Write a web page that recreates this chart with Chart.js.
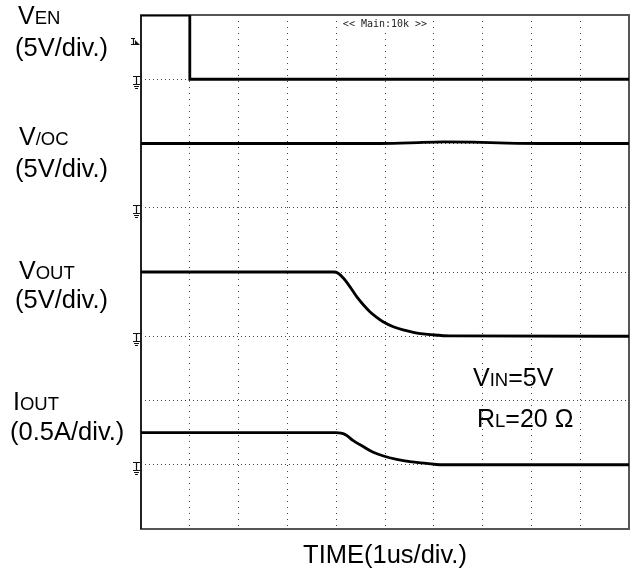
<!DOCTYPE html>
<html>
<head>
<meta charset="utf-8">
<script src="https://cdn.jsdelivr.net/npm/chart.js@4.4.0/dist/chart.umd.min.js"></script>
<style>
  body { margin: 0; background: #fff; }
  #scope { display: block; }
</style>
</head>
<body>
<canvas id="scope" width="633" height="571"></canvas>
<script>
// time in us, 1us/div
const timeEN = [0, 1.0, 1.0, 10];
const valuesEN = [5, 5, 0, 0];

const timeOC = [0, 4.8, 5.5, 6.2, 6.8, 7.5, 8.2, 10];
const valuesOC = [5, 5, 5.05, 5.12, 5.1, 5.03, 5.0, 5.0];

const timeOUT = [0, 3.95, 4.04, 4.15, 4.28, 4.42, 4.56, 4.69, 4.83, 4.96, 5.17, 5.37, 5.58, 5.78, 5.99, 6.33, 10];
const valuesOUT = [5, 5, 4.9, 4.51, 3.86, 3.08, 2.43, 1.91, 1.47, 1.13, 0.74, 0.49, 0.31, 0.18, 0.10, 0.03, 0];

const timeIOUT = [0, 4.0, 4.1, 4.2, 4.35, 4.56, 4.76, 4.97, 5.24, 5.51, 5.85, 6.13, 10];
const valuesIOUT = [0.25, 0.25, 0.246, 0.232, 0.187, 0.140, 0.097, 0.068, 0.042, 0.024, 0.011, 0, 0];

// channel ground level (in divisions) and volts/amps per division
const channelNames = ["VEN", "V/OC", "VOUT", "IOUT"];
const groundDivs = [7, 5, 3, 1];
const perDiv = [5, 5, 5, 0.5];

const sideLabels = [
    {big: "V", small: "EN", unit: "(5V/div.)"},
    {big: "V", small: "/OC", unit: "(5V/div.)"},
    {big: "V", small: "OUT", unit: "(5V/div.)"},
    {big: "I", small: "OUT", unit: "(0.5A/div.)"}
];

const FONT = "'Liberation Sans', Arial, sans-serif";

function toPoints(times, values, ch){
    return times.map(function (t, i){
        return {x: t, y: groundDivs[ch] + values[i] / perDiv[ch]};
    });
}

const traces = [
    toPoints(timeEN, valuesEN, 0),
    toPoints(timeOC, valuesOC, 1),
    toPoints(timeOUT, valuesOUT, 2),
    toPoints(timeIOUT, valuesIOUT, 3)
];

function groundMark(ctx, x, y){
    ctx.beginPath();
    ctx.moveTo(x - 3, y - 3); ctx.lineTo(x + 4, y - 3);
    ctx.moveTo(x + 0.5, y - 3); ctx.lineTo(x + 0.5, y + 5);
    ctx.moveTo(x - 3, y + 5); ctx.lineTo(x + 4, y + 5);
    ctx.moveTo(x - 2, y + 7); ctx.lineTo(x + 3, y + 7);
    ctx.moveTo(x - 1, y + 9); ctx.lineTo(x + 2, y + 9);
    ctx.stroke();
}

const framePlugin = {
    id: 'frame',
    beforeDatasetsDraw(chart){
        const ctx = chart.ctx;
        const a = chart.chartArea;
        ctx.save();
        ctx.strokeStyle = '#555';
        ctx.lineWidth = 2;
        ctx.strokeRect(a.left, a.top, a.right - a.left, a.bottom - a.top);
        ctx.strokeStyle = '#111';
        ctx.lineWidth = 1.5;
        ctx.beginPath();
        ctx.moveTo(a.left, a.top); ctx.lineTo(a.left, a.bottom);
        ctx.stroke();
        ctx.restore();
    },
    afterDraw(chart){
        const ctx = chart.ctx;
        const xs = chart.scales.x;
        const ys = chart.scales.y;
        ctx.save();

        // ground markers
        ctx.strokeStyle = '#111';
        ctx.lineWidth = 1.2;
        groundDivs.forEach(function (g){
            groundMark(ctx, 136, Math.round(ys.getPixelForValue(g)) + 0.5);
        });

        // trigger marker
        ctx.beginPath();
        ctx.moveTo(131, 38.5); ctx.lineTo(135, 38.5);
        ctx.moveTo(133.5, 38.5); ctx.lineTo(133.5, 44);
        ctx.moveTo(131, 44.5); ctx.lineTo(136, 44.5);
        ctx.stroke();
        ctx.fillStyle = '#111';
        ctx.beginPath();
        ctx.moveTo(135, 40); ctx.lineTo(140, 45); ctx.lineTo(135, 45);
        ctx.closePath();
        ctx.fill();

        // scope header
        ctx.font = "10px 'DejaVu Sans Mono', monospace";
        ctx.textAlign = 'center';
        ctx.textBaseline = 'alphabetic';
        const hx = xs.getPixelForValue(5);
        const hw = ctx.measureText("<< Main:10k >>").width;
        ctx.fillStyle = '#fff';
        ctx.fillRect(hx - hw / 2 - 2, 17, hw + 4, 12);
        ctx.fillStyle = '#222';
        ctx.fillText("<< Main:10k >>", hx, 27);

        // channel labels
        ctx.textAlign = 'left';
        ctx.fillStyle = '#000';
        const labelPos = [
            {x: 18, y1: 24, x2: 15, y2: 56},
            {x: 19, y1: 145, x2: 15, y2: 177},
            {x: 19, y1: 279, x2: 15, y2: 308},
            {x: 13, y1: 410, x2: 10, y2: 440}
        ];
        sideLabels.forEach(function (lab, i){
            const p = labelPos[i];
            ctx.font = "25px " + FONT;
            ctx.fillText(lab.big, p.x, p.y1);
            const w = ctx.measureText(lab.big).width;
            ctx.font = "18.5px " + FONT;
            ctx.fillText(lab.small, p.x + w, p.y1);
            ctx.font = "25.5px " + FONT;
            ctx.fillText(lab.unit, p.x2, p.y2);
        });

        // test conditions
        function mixed(parts, x, y){
            parts.forEach(function (part){
                ctx.font = part[1] + "px " + FONT;
                ctx.fillText(part[0], x, y);
                x += ctx.measureText(part[0]).width;
            });
        }
        mixed([["V", 25], ["IN", 18.5], ["=5V", 25]], 473, 386);
        mixed([["R", 25], ["L", 18.5], ["=20 \u03A9", 25]], 477, 427);

        // time axis label
        ctx.font = "25.5px " + FONT;
        ctx.textAlign = 'center';
        ctx.fillText("TIME(1us/div.)", (chart.chartArea.left + chart.chartArea.right) / 2, 563);

        ctx.restore();
    }
};

new Chart(document.getElementById("scope").getContext('2d'), {
    type: 'line',
    data: {
        datasets: traces.map(function (pts, i){
            return {
                label: channelNames[i],
                data: pts,
                borderColor: '#000',
                borderWidth: 2.8,
                pointRadius: 0,
                tension: 0,
                cubicInterpolationMode: 'monotone',
                fill: false
            };
        })
    },
    options: {
        responsive: false,
        animation: false,
        devicePixelRatio: 1,
        layout: {
            padding: {left: 141, top: 15, right: 4, bottom: 42}
        },
        plugins: {
            legend: {display: false},
            tooltip: {enabled: false}
        },
        scales: {
            x: {
                type: 'linear',
                min: 0,
                max: 10,
                ticks: {display: false, stepSize: 1},
                grid: {color: '#444', lineWidth: 1, drawTicks: false},
                border: {display: false, dash: [1, 5]}
            },
            y: {
                type: 'linear',
                min: 0,
                max: 8,
                ticks: {display: false, stepSize: 1},
                grid: {color: '#444', lineWidth: 1, drawTicks: false},
                border: {display: false, dash: [1, 3]}
            }
        }
    },
    plugins: [framePlugin]
});
</script>
</body>
</html>
